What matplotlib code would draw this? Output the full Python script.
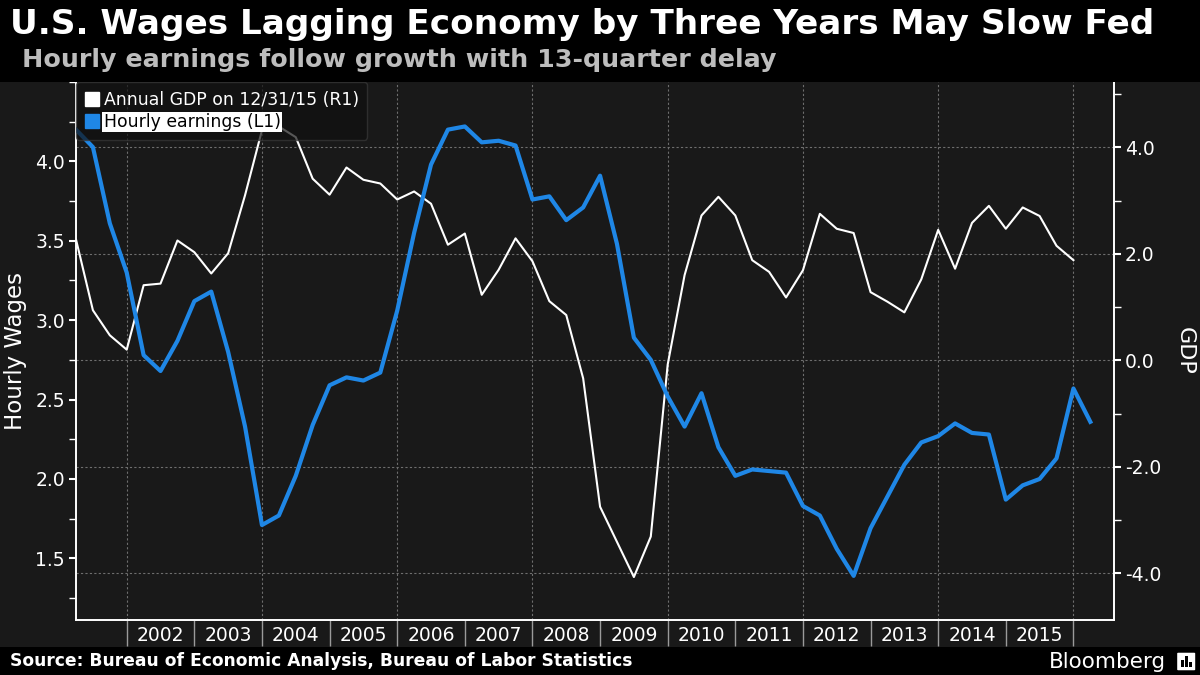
import numpy as np
import matplotlib
matplotlib.use("Agg")
import matplotlib.pyplot as plt
from matplotlib.lines import Line2D
from matplotlib.patches import Rectangle, FancyBboxPatch

plt.rcParams["font.family"] = ["DejaVu Sans"]
plt.rcParams["axes.unicode_minus"] = False

# quarterly points, fractional years
quarters = np.arange(2001.25, 2016.26, 0.25)

# Annual GDP (right axis), 60 quarters 2001.25 .. 2016.0
gdp = [2.27, 0.94, 0.47, 0.20, 1.41, 1.44, 2.25, 2.03, 1.63, 2.01,
       3.10, 4.32, 4.39, 4.19, 3.41, 3.11, 3.62, 3.39, 3.32, 3.02,
       3.17, 2.94, 2.17, 2.38, 1.23, 1.70, 2.29, 1.86, 1.11, 0.85,
       -0.34, -2.75, -3.41, -4.07, -3.31, -0.08, 1.60, 2.72, 3.07, 2.72,
       1.88, 1.66, 1.18, 1.69, 2.75, 2.47, 2.39, 1.28, 1.10, 0.90,
       1.52, 2.45, 1.72, 2.58, 2.90, 2.47, 2.87, 2.71, 2.15, 1.88]

# Hourly earnings (left axis), 61 quarters 2001.25 .. 2016.25
wages = [4.20, 4.09, 3.61, 3.30, 2.78, 2.68, 2.87, 3.12, 3.18, 2.80,
         2.33, 1.71, 1.77, 2.02, 2.34, 2.59, 2.64, 2.62, 2.67, 3.06,
         3.55, 3.98, 4.20, 4.22, 4.12, 4.13, 4.10, 3.76, 3.78, 3.63,
         3.71, 3.91, 3.48, 2.89, 2.75, 2.52, 2.33, 2.54, 2.20, 2.02,
         2.06, 2.05, 2.04, 1.83, 1.77, 1.56, 1.39, 1.69, 1.89, 2.09,
         2.23, 2.27, 2.35, 2.29, 2.28, 1.87, 1.96, 2.00, 2.13, 2.57,
         2.36]

years = list(range(2002, 2016))

BG = "#191919"
BLUE = "#1f87e6"
GRID = "#6e6e6e"

fig = plt.figure(figsize=(12, 6.75), dpi=100, facecolor=BG)

# header and footer bands
fig.patches.append(Rectangle((0, 1 - 82 / 675), 1, 82 / 675, transform=fig.transFigure,
                             facecolor="black", edgecolor="none", zorder=0))
fig.patches.append(Rectangle((0, 0), 1, 28 / 675, transform=fig.transFigure,
                             facecolor="black", edgecolor="none", zorder=0))

ax = fig.add_axes([76 / 1200, 1 - 620 / 675, (1114 - 76) / 1200, (620 - 82) / 675])
ax.set_facecolor(BG)
ax2 = ax.twinx()

# GDP on ax, ticks on the right
ax.plot(quarters[:len(gdp)], gdp, color="white", lw=1.5, zorder=3)
ax.set_ylim(-4.877, 5.226)
ax.set_yticks([-4, -2, 0, 2, 4])
ax.set_yticks([-3, -1, 1, 3, 5], minor=True)
ax.set_yticklabels(["%.1f" % v for v in [-4, -2, 0, 2, 4]])
ax.yaxis.tick_right()
ax.yaxis.set_label_position("right")
ax.set_ylabel("GDP", color="white", fontsize=16, rotation=270, labelpad=24)
ax.grid(axis="y", which="major", color=GRID, linestyle=(0, (2, 2)), lw=0.8)
for yr in range(2002, 2017, 2):
    ax.axvline(yr, color=GRID, linestyle=(0, (2, 2)), lw=0.8, zorder=1)

# wages on ax2, ticks on the left
ax2.plot(quarters[:len(wages)], wages, color=BLUE, lw=3, zorder=4)
ax2.set_ylim(1.112, 4.495)
ax2.set_yticks([1.5, 2.0, 2.5, 3.0, 3.5, 4.0])
ax2.set_yticks([1.25, 1.75, 2.25, 2.75, 3.25, 3.75, 4.25, 4.5], minor=True)
ax2.set_yticklabels(["%.1f" % v for v in [1.5, 2.0, 2.5, 3.0, 3.5, 4.0]])
ax2.yaxis.tick_left()
ax2.yaxis.set_label_position("left")
ax2.set_ylabel("Hourly Wages", color="white", fontsize=16.5, labelpad=6)

ax.set_xlim(2001.25, 2016.6)
ax.set_xticks(range(2002, 2017))
ax.set_xticklabels([])
ax.set_xticks([y + 0.5 for y in years], minor=True)
ax.set_xticklabels([str(y) for y in years], minor=True)
ax.tick_params(axis="x", which="major", length=19, width=1, color="#9a9a9a", direction="out")
ax.tick_params(axis="x", which="minor", length=0, pad=4, labelsize=13.5, labelcolor="white")

for a in (ax, ax2):
    a.tick_params(axis="y", which="major", length=5, width=1.5, color="white",
                  labelsize=13.5, labelcolor="white", pad=3)
    a.tick_params(axis="y", which="minor", length=5, width=1, color="white")
    a.spines["top"].set_visible(False)
    for s in ("left", "right", "bottom"):
        a.spines[s].set_color("white")
        a.spines[s].set_linewidth(1.2)

handles = [
    Line2D([], [], marker="s", ls="none", color="white", markersize=10),
    Line2D([], [], marker="s", ls="none", color=BLUE, markersize=10),
]
leg = ax2.legend(handles, ["Annual GDP on 12/31/15 (R1)", "Hourly earnings (L1)"],
                 loc="upper left", bbox_to_anchor=(0, 1), borderaxespad=0,
                 fontsize=12.4, handlelength=0.8, handletextpad=0.3, labelspacing=0.25,
                 frameon=True, facecolor="#101010", edgecolor="#3a3a3a", framealpha=0.7,
                 borderpad=0.5)
for t in leg.get_texts():
    t.set_color("white")
hl = leg.get_texts()[1]
hl.set_color("black")
hl.set_bbox(dict(facecolor="white", edgecolor="none", pad=1))

# titles
fig.text(0.008, 0.964, "U.S. Wages Lagging Economy by Three Years May Slow Fed",
         color="white", fontsize=24.7, fontweight="bold", va="center", ha="left")
fig.text(0.018, 0.911, "Hourly earnings follow growth with 13-quarter delay",
         color="#bdbdbd", fontsize=18.3, fontweight="bold", va="center", ha="left")

# footer
fig.text(0.008, 0.020, "Source: Bureau of Economic Analysis, Bureau of Labor Statistics",
         color="white", fontsize=12.3, fontweight="bold", va="center", ha="left")
fig.text(0.972, 0.020, "Bloomberg", color="white", fontsize=15.5, va="center", ha="right")
fig.patches.append(FancyBboxPatch((0.982, 0.008), 0.013, 0.024, transform=fig.transFigure,
                                  boxstyle="round,pad=0.001", facecolor="white",
                                  edgecolor="none", zorder=5))
for i, h in enumerate([0.010, 0.016, 0.008]):
    fig.patches.append(Rectangle((0.9845 + i * 0.0033, 0.012), 0.002, h,
                                 transform=fig.transFigure, facecolor="black",
                                 edgecolor="none", zorder=6))

fig.savefig("out.png", dpi=100, facecolor=BG)
